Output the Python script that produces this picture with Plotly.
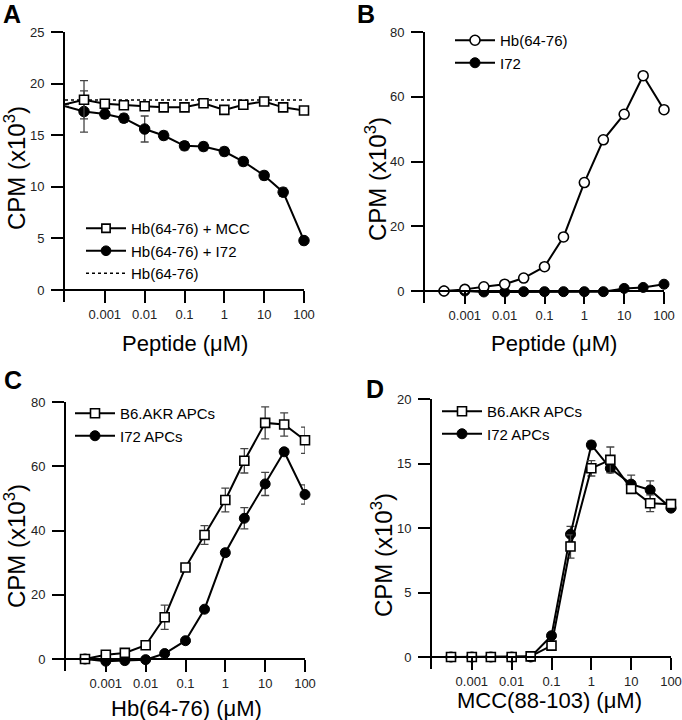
import plotly.graph_objects as go

# concentrations (uM), half-log steps
conc = [0.0003, 0.001, 0.003, 0.01, 0.03, 0.1, 0.3, 1, 3, 10, 30, 100]

# panel A: Hb(64-76) with competitor peptides, CPM x10^3
a_x = [0.0001] + conc
a_mcc = [18.0, 18.43, 18.05, 17.9, 17.8, 17.7, 17.7, 18.1, 17.45, 17.95, 18.27, 17.7, 17.4]
a_mcc_err = [0, 1.85, 0.3, 0.3, 0.3, 0.3, 0.3, 0.3, 0.3, 0.3, 0.3, 0.3, 0.3]
a_i72 = [17.8, 17.3, 17.05, 16.65, 15.6, 14.97, 13.97, 13.9, 13.42, 12.45, 11.1, 9.48, 4.79]
a_i72_err = [0, 2.0, 0.4, 0.4, 1.26, 0.4, 0.4, 0.4, 0.4, 0.4, 0.4, 0.4, 0.4]
a_hb_x = [0.0001, 100]
a_hb = [18.4, 18.4]

# panel B: peptide alone
b_hb = [0, 0.5, 1.3, 2.1, 4.0, 7.5, 16.7, 33.5, 46.7, 54.6, 66.5, 56.0]
b_i72 = [0, 0, -0.3, -0.3, -0.2, -0.2, -0.2, -0.2, -0.2, 0.8, 1.1, 2.1]

# panel C: Hb(64-76) on two APC types
c_b6 = [0, 1.3, 1.9, 4.3, 13.0, 28.5, 38.6, 49.5, 61.7, 73.5, 73.0, 68.1]
c_b6_err = [0, 0, 0, 0.3, 3.8, 0.8, 2.9, 3.7, 3.8, 5.0, 3.6, 4.1]
c_i72 = [0, -0.7, -0.5, -0.2, 1.7, 5.7, 15.5, 33.1, 43.8, 54.5, 64.5, 51.2]
c_i72_err = [0, 0, 0, 0, 0.3, 0.5, 0.8, 1.0, 3.3, 3.6, 1.0, 3.0]

# panel D: MCC(88-103) on two APC types
d_b6 = [0, 0, 0, 0, 0.05, 0.88, 8.57, 14.63, 15.28, 13.03, 11.92, 11.85]
d_b6_err = [0, 0, 0, 0, 0, 0.1, 0.9, 0.6, 1.0, 0.3, 0.65, 0.2]
d_i72 = [0, 0, 0, 0, 0, 1.65, 9.52, 16.44, 14.63, 13.4, 12.95, 11.54]
d_i72_err = [0, 0, 0, 0, 0, 0.2, 0.6, 0.3, 0.3, 0.7, 0.7, 0.2]

tick_vals = [0.001, 0.01, 0.1, 1, 10, 100]
tick_text = ["0.001", "0.01", "0.1", "1", "10", "100"]

FONT = "Liberation Sans, Arial, Helvetica, sans-serif"
W, H = 682, 720

def err(vals):
    return dict(type="data", array=vals, visible=True, color="#444",
                thickness=1.3, width=4)

sq = dict(symbol="square", size=9, color="white", opacity=1,
          line=dict(color="black", width=1.6))
dot = dict(symbol="circle", size=10, color="black", opacity=1,
           line=dict(color="black", width=1))
ring = dict(symbol="circle", size=10, color="white", opacity=1,
            line=dict(color="black", width=1.6))
ln = dict(color="black", width=2)

fig = go.Figure()

# A
fig.add_trace(go.Scatter(x=a_hb_x, y=a_hb, mode="lines", name="Hb(64-76)",
                         line=dict(color="black", width=1.5, dash="dot"),
                         xaxis="x", yaxis="y", legend="legend", legendrank=3))
fig.add_trace(go.Scatter(x=a_x, y=a_i72, mode="lines+markers", name="Hb(64-76) + I72",
                         line=ln, marker=dict(dot, size=[0] + [10.5] * 12),
                         error_y=err(a_i72_err), cliponaxis=False,
                         xaxis="x", yaxis="y", legend="legend", legendrank=2))
fig.add_trace(go.Scatter(x=a_x, y=a_mcc, mode="lines+markers", name="Hb(64-76) + MCC",
                         line=ln, marker=dict(sq, size=[0] + [9] * 12),
                         error_y=err(a_mcc_err), cliponaxis=False,
                         xaxis="x", yaxis="y", legend="legend", legendrank=1))

# B
fig.add_trace(go.Scatter(x=conc, y=b_i72, mode="lines+markers", name="I72",
                         line=ln, marker=dot, cliponaxis=False,
                         xaxis="x2", yaxis="y2", legend="legend2", legendrank=2))
fig.add_trace(go.Scatter(x=conc, y=b_hb, mode="lines+markers", name="Hb(64-76)",
                         line=ln, marker=ring, cliponaxis=False,
                         xaxis="x2", yaxis="y2", legend="legend2", legendrank=1))

# C
fig.add_trace(go.Scatter(x=conc, y=c_i72, mode="lines+markers", name="I72 APCs",
                         line=ln, marker=dot, error_y=err(c_i72_err), cliponaxis=False,
                         xaxis="x3", yaxis="y3", legend="legend3", legendrank=2))
fig.add_trace(go.Scatter(x=conc, y=c_b6, mode="lines+markers", name="B6.AKR APCs",
                         line=ln, marker=sq, error_y=err(c_b6_err), cliponaxis=False,
                         xaxis="x3", yaxis="y3", legend="legend3", legendrank=1))

# D
fig.add_trace(go.Scatter(x=conc, y=d_i72, mode="lines+markers", name="I72 APCs",
                         line=ln, marker=dot, error_y=err(d_i72_err), cliponaxis=False,
                         xaxis="x4", yaxis="y4", legend="legend4", legendrank=2))
fig.add_trace(go.Scatter(x=conc, y=d_b6, mode="lines+markers", name="B6.AKR APCs",
                         line=ln, marker=sq, error_y=err(d_b6_err), cliponaxis=False,
                         xaxis="x4", yaxis="y4", legend="legend4", legendrank=1))

# panel boxes in pixels: (left, right, zero pixel, top pixel, ymax, ystep)
panels = [
    (65, 304, 290, 32, 25, 5),
    (425, 664, 291, 32, 80, 20),
    (66, 305, 659, 402, 80, 20),
    (432, 671, 657, 399, 20, 5),
]
EXT = 12  # y axis runs a little below zero, like the first x tick

axis_common = dict(showline=True, linecolor="black", linewidth=2, ticks="outside",
                   ticklen=12, tickwidth=2, tickcolor="black", showgrid=False,
                   zeroline=False, tickfont=dict(family=FONT, size=13, color="#222"),
                   automargin=False)

lay = {}
for i, (l, r, yb, yt, ymax, ystep) in enumerate(panels):
    sfx = "" if i == 0 else str(i + 1)
    ymin = -EXT * ymax / (yb - yt)
    lay["xaxis" + sfx] = dict(axis_common, type="log", range=[-4, 2],
                              domain=[l / W, r / W], anchor="free", position=1 - yb / H,
                              tickvals=tick_vals, ticktext=tick_text)
    lay["yaxis" + sfx] = dict(axis_common, range=[ymin, ymax],
                              domain=[1 - (yb + EXT) / H, 1 - yt / H],
                              anchor="x" + sfx, tickvals=list(range(0, ymax + 1, ystep)),
                              ticklabelstandoff=4)

leg_common = dict(font=dict(family=FONT, size=15, color="black"), bgcolor="rgba(0,0,0,0)",
                  xanchor="left", yanchor="top", itemwidth=40, tracegroupgap=0,
                  itemclick=False, itemdoubleclick=False)
lay["legend"] = dict(leg_common, x=81 / W, y=1 - 212 / H)
lay["legend2"] = dict(leg_common, x=450 / W, y=1 - 24 / H)
lay["legend3"] = dict(leg_common, x=70 / W, y=1 - 397 / H)
lay["legend4"] = dict(leg_common, x=437 / W, y=1 - 395 / H)

ann = []
ytitle = "CPM (x10<sup>3</sup>)"
for x, y, t in [(15, 168, ytitle), (376, 179, ytitle), (15, 546, ytitle), (382, 555, ytitle)]:
    ann.append(dict(x=x / W, y=1 - y / H, text=t, textangle=-90, showarrow=False,
                    xref="paper", yref="paper", xanchor="center", yanchor="middle",
                    font=dict(family=FONT, size=24, color="black")))
for x, y, t in [(185, 343, "Peptide (\u03bcM)"), (554, 343, "Peptide (\u03bcM)"),
                (187, 708, "Hb(64-76) (\u03bcM)"), (549, 700, "MCC(88-103) (\u03bcM)")]:
    ann.append(dict(x=x / W, y=1 - y / H, text=t, showarrow=False,
                    xref="paper", yref="paper", xanchor="center", yanchor="middle",
                    font=dict(family=FONT, size=22, color="black")))
for x, y, t in [(12, 14, "A"), (366, 14, "B"), (13, 380, "C"), (375, 389, "D")]:
    ann.append(dict(x=x / W, y=1 - y / H, text="<b>" + t + "</b>", showarrow=False,
                    xref="paper", yref="paper", xanchor="center", yanchor="middle",
                    font=dict(family=FONT, size=25, color="black")))

fig.update_layout(width=W, height=H, margin=dict(l=0, r=0, t=0, b=0),
                  plot_bgcolor="white", paper_bgcolor="white", annotations=ann,
                  showlegend=True, **lay)

fig.write_html("out.html", config={"displayModeBar": False},
               post_script="document.body.style.margin='0';document.body.style.overflow='hidden';")
